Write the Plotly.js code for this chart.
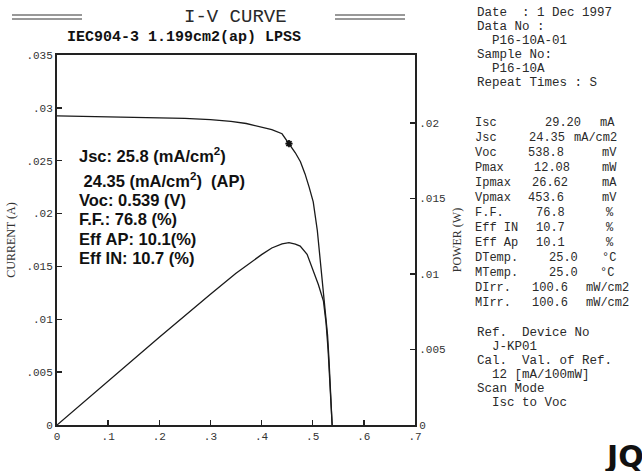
<!DOCTYPE html>
<html>
<head>
<meta charset="utf-8">
<script src="https://cdn.plot.ly/plotly-3.0.1.min.js"></script>
<style>html,body{margin:0;padding:0;background:#fff;}#chart{width:642px;height:471px;}</style>
</head>
<body>
<div id="chart"></div>
<script>
// ---------- data ----------
const voltageI = [0, 0.05, 0.1, 0.15, 0.2, 0.25, 0.3, 0.34, 0.37, 0.40, 0.42, 0.44, 0.4536, 0.466, 0.476, 0.485, 0.493, 0.501, 0.509, 0.516, 0.521, 0.526, 0.529, 0.532, 0.535, 0.538];
const currentA = [0.02925, 0.0292, 0.02915, 0.0291, 0.02905, 0.029, 0.02888, 0.02872, 0.02852, 0.02822, 0.02795, 0.02755, 0.02662, 0.02575, 0.0249, 0.02375, 0.0225, 0.0211, 0.0184, 0.0150, 0.0120, 0.0096, 0.0085, 0.0060, 0.0030, 0];
const voltageP = [0, 0.1, 0.2, 0.3, 0.35, 0.40, 0.42, 0.44, 0.4536, 0.466, 0.4755, 0.489, 0.501, 0.511, 0.521, 0.526, 0.530, 0.534, 0.538];
const powerW = [0, 0.00291, 0.00581, 0.00866, 0.01005, 0.01128, 0.01172, 0.01200, 0.01208, 0.01198, 0.01185, 0.0113, 0.0102, 0.0093, 0.0082, 0.0068, 0.0050, 0.0026, 0];
const maxPowerV = [0.4536];
const maxPowerI = [0.02662];

const xTickVals = [0, 0.1, 0.2, 0.3, 0.4, 0.5, 0.6, 0.7];
const xTickText = ["0", ".1", ".2", ".3", ".4", ".5", ".6", ".7"];
const yTickVals = [0, 0.005, 0.01, 0.015, 0.02, 0.025, 0.03, 0.035];
const yTickText = ["0", ".005", ".01", ".015", ".02", ".025", ".03", ".035"];
const y2TickVals = [0, 0.005, 0.01, 0.015, 0.02];
const y2TickText = ["0", ".005", ".01", ".015", ".02"];

const statLabels = ["Isc", "Jsc", "Voc", "Pmax", "Ipmax", "Vpmax", "F.F.", "Eff IN", "Eff Ap", "DTemp.", "MTemp.", "DIrr.", "MIrr."];
const statValues = ["29.20", "24.35", "538.8", "12.08", "26.62", "453.6", "76.8", "10.7", "10.1", "25.0", "25.0", "100.6", "100.6"];
const statUnits = ["mA", "mA/cm2", "mV", "mW", "mA", "mV", "%", "%", "%", "°C", "°C", "mW/cm2", "mW/cm2"];

const headerLines = ["Date  : 1 Dec 1997", "Data No :", "  P16-10A-01", "Sample No:", "  P16-10A", "Repeat Times : S"];
const footerLines = ["Ref.  Device No", "  J-KP01", "Cal.  Val. of Ref.", "  12 [mA/100mW]", "Scan Mode", "  Isc to Voc"];

const resultLines = [
  "Jsc: 25.8 (mA/cm<sup>2</sup>)",
  " 24.35 (mA/cm<sup>2</sup>)  (AP)",
  "Voc: 0.539 (V)",
  "F.F.: 76.8 (%)",
  "Eff AP: 10.1(%)",
  "Eff IN: 10.7 (%)"
];

const chartTitle = "I-V CURVE";
const chartSubtitle = "IEC904-3 1.199cm2(ap) LPSS";

// ---------- layout helpers ----------
const PL = 57, PR = 415, PT = 55, PB = 425;
const px = x => (x - PL) / (PR - PL);
const py = y => (PB - y) / (PB - PT);
const nb = s => s.replace(/ /g, "\u00A0");
const mono = "'Liberation Mono', 'Courier New', monospace";
const ink = "#2a2a2a";

function txt(x, y, text, opts) {
  return Object.assign({
    xref: "paper", yref: "paper", x: px(x), y: py(y), text: text,
    showarrow: false, xanchor: "left", yanchor: "middle",
    font: { family: mono, size: 12, color: ink }
  }, opts || {});
}

const annotations = [];
annotations.push(txt(235, 17, nb(chartTitle), { xanchor: "center", font: { family: mono, size: 19, color: ink } }));
annotations.push(txt(184, 37, nb(chartSubtitle), { xanchor: "center", font: { family: mono, size: 15, color: "#111", weight: "bold" } }));

const headerY = [13, 27, 41, 55, 69, 83];
headerLines.forEach((s, i) => annotations.push(txt(475, headerY[i], nb(s), { font: { family: mono, size: 12.5, color: ink } })));

const statValX = [543, 527, 526, 532, 530, 526, 534, 534, 534, 547, 547, 530, 530];
const statUnitX = [598, 572, 600, 600, 600, 600, 604, 604, 604, 600, 598, 584, 584];
statLabels.forEach((s, i) => {
  const y = 123 + i * 15;
  annotations.push(txt(473, y, nb(s)));
  annotations.push(txt(statValX[i], y, statValues[i]));
  annotations.push(txt(statUnitX[i], y, statUnits[i]));
});

const footerY = [333, 347, 361, 375, 389, 403];
footerLines.forEach((s, i) => annotations.push(txt(475, footerY[i], nb(s), { font: { family: mono, size: 12.5, color: ink } })));

const resultY = [155, 179.5, 199.5, 219, 238.5, 258];
resultLines.forEach((s, i) => annotations.push(txt(77, resultY[i], nb(s), {
  font: { family: "'Liberation Sans', Arial, sans-serif", size: 16.5, color: "#111", weight: "bold" }
})));

annotations.push(txt(603, 456, "JQA", { font: { family: "'DejaVu Sans', sans-serif", size: 30, color: "#111", weight: "bold" } }));

const dbl = (x0, x1) => [
  { type: "line", xref: "paper", yref: "paper", x0: px(x0), x1: px(x1), y0: py(15), y1: py(15), line: { color: "#333", width: 1.2 } },
  { type: "line", xref: "paper", yref: "paper", x0: px(x0), x1: px(x1), y0: py(19), y1: py(19), line: { color: "#333", width: 1.2 } }
];
const shapes = [].concat(dbl(12, 82), dbl(335, 405));

// ---------- traces ----------
const lineStyle = { color: "#1a1a1a", width: 1.3 };
const traces = [
  { x: voltageI, y: currentA, type: "scatter", mode: "lines", line: lineStyle, yaxis: "y", hoverinfo: "skip" },
  { x: voltageP, y: powerW, type: "scatter", mode: "lines", line: lineStyle, yaxis: "y2", hoverinfo: "skip" },
  { x: maxPowerV, y: maxPowerI, type: "scatter", mode: "markers", yaxis: "y",
    marker: { symbol: "asterisk-open", size: 6, color: "#111", line: { color: "#111", width: 1.8 } }, hoverinfo: "skip" }
];

const axisCommon = {
  showgrid: false, zeroline: false, showline: true, linecolor: "#222", linewidth: 2,
  ticks: "inside", ticklen: 5, tickwidth: 1.5, tickcolor: "#222",
  tickfont: { family: mono, size: 11, color: "#333" }
};

const layout = {
  width: 642, height: 471,
  margin: { l: PL, r: 642 - PR, t: PT, b: 471 - PB, pad: 0 },
  paper_bgcolor: "#fff", plot_bgcolor: "#fff",
  showlegend: false,
  font: { family: mono, color: ink },
  xaxis: Object.assign({}, axisCommon, { range: [0, 0.7], tickvals: xTickVals, ticktext: xTickText, mirror: true }),
  yaxis: Object.assign({}, axisCommon, { range: [0, 0.035], tickvals: yTickVals, ticktext: yTickText,
    title: { text: "CURRENT (A)", font: { family: "'Liberation Serif', serif", size: 12, color: "#333" }, standoff: 8 } }),
  yaxis2: Object.assign({}, axisCommon, { range: [0, 0.0245], tickvals: y2TickVals, ticktext: y2TickText,
    overlaying: "y", side: "right",
    title: { text: "POWER (W)", font: { family: "'Liberation Serif', serif", size: 12, color: "#333" }, standoff: 8 } }),
  annotations: annotations,
  shapes: shapes
};

Plotly.newPlot("chart", traces, layout, { displayModeBar: false, staticPlot: true });
</script>
</body>
</html>
